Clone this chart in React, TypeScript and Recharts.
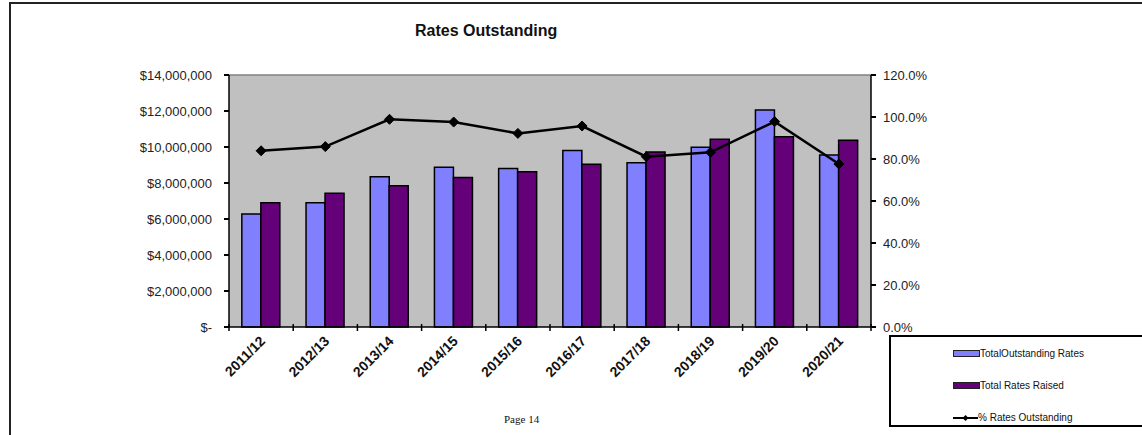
import {
  ComposedChart,
  Bar,
  Line,
  XAxis,
  YAxis,
  CartesianGrid,
  Legend,
  ReferenceLine,
} from "recharts";

const years = [
  "2011/12",
  "2012/13",
  "2013/14",
  "2014/15",
  "2015/16",
  "2016/17",
  "2017/18",
  "2018/19",
  "2019/20",
  "2020/21",
];
const totalOutstanding = [
  6280000, 6900000, 8350000, 8870000, 8800000, 9810000, 9130000, 9980000, 12060000, 9560000,
];
const totalRaised = [
  6900000, 7430000, 7850000, 8300000, 8630000, 9040000, 9720000, 10430000, 10570000, 10370000,
];
const pctOutstanding = [83.9, 85.9, 98.9, 97.6, 92.2, 95.7, 81.1, 83.2, 97.8, 77.6];

const moneyTicks = [0, 2000000, 4000000, 6000000, 8000000, 10000000, 12000000, 14000000];
const pctTicks = [0, 20, 40, 60, 80, 100, 120];

const data = years.map((year, i) => ({
  year,
  outstanding: totalOutstanding[i],
  raised: totalRaised[i],
  pct: pctOutstanding[i],
}));

const LIGHT = "#8080FF";
const DARK = "#640078";
const FONT = "'Liberation Sans', Arial, sans-serif";

// plot is 642px wide, 10 categories
const BAND = 64.2;

const formatMoney = (v: number) => (v === 0 ? "$-" : "$" + v.toLocaleString("en-US"));
const formatPct = (v: number) => v.toFixed(1) + "%";

const YearTick = (props: any) => {
  const { x, y, payload, index } = props;
  return (
    <g>
      <line x1={x - BAND / 2} x2={x - BAND / 2} y1={y - 3} y2={y + 4} stroke="#000" strokeWidth={1.5} />
      {index === years.length - 1 && (
        <line x1={x + BAND / 2} x2={x + BAND / 2} y1={y - 3} y2={y + 4} stroke="#000" strokeWidth={1.5} />
      )}
      <text
        x={x + 5}
        y={y + 15}
        transform={`rotate(-45, ${x + 5}, ${y + 15})`}
        textAnchor="end"
        fontFamily={FONT}
        fontSize={14}
        fontWeight="bold"
        fill="#111"
      >
        {payload.value}
      </text>
    </g>
  );
};

const Diamond = (props: any) => {
  const { cx, cy } = props;
  if (cx == null || cy == null) return null;
  const r = 5;
  return (
    <polygon
      points={`${cx},${cy - r} ${cx + r},${cy} ${cx},${cy + r} ${cx - r},${cy}`}
      fill="#000"
      stroke="#000"
    />
  );
};

const LegendBox = () => {
  const row = { display: "flex", alignItems: "center", height: 33 } as const;
  const label = { fontFamily: FONT, fontSize: 10, color: "#111" } as const;
  return (
    <div
      style={{
        width: 256,
        height: 92,
        border: "2px solid #000",
        boxSizing: "border-box",
        paddingLeft: 62,
        background: "#fff",
      }}
    >
      <div style={row}>
        <span style={{ width: 25, height: 5, background: LIGHT, border: "1px solid #222" }} />
        <span style={label}>TotalOutstanding Rates</span>
      </div>
      <div style={{ ...row, marginTop: -1 }}>
        <span style={{ width: 25, height: 5, background: DARK, border: "1px solid #222" }} />
        <span style={label}>Total Rates Raised</span>
      </div>
      <div style={{ ...row, marginTop: -1 }}>
        <svg width={25} height={10}>
          <line x1={0} x2={25} y1={5} y2={5} stroke="#000" strokeWidth={2} />
          <polygon points="12.5,2 15.5,5 12.5,8 9.5,5" fill="#000" />
        </svg>
        <span style={label}>% Rates Outstanding</span>
      </div>
    </div>
  );
};

export default function App() {
  return (
    <div style={{ position: "absolute", left: 0, top: 0, width: 1142, height: 435, background: "#fff", overflow: "hidden" }}>
      <div
        style={{
          position: "absolute",
          left: 9,
          top: 2,
          width: 1140,
          height: 440,
          borderTop: "2px solid #222",
          borderLeft: "2px solid #222",
        }}
      />
      <div
        style={{
          position: "absolute",
          left: 415,
          top: 22,
          fontFamily: FONT,
          fontSize: 16,
          fontWeight: "bold",
          color: "#111",
          whiteSpace: "nowrap",
        }}
      >
        Rates Outstanding
      </div>
      <div
        style={{
          position: "absolute",
          left: 504,
          top: 413,
          fontFamily: "'Liberation Serif', serif",
          fontSize: 11,
          color: "#111",
        }}
      >
        Page 14
      </div>
      <ComposedChart
        width={1142}
        height={435}
        data={data}
        margin={{ top: 75, right: 211, bottom: 48, left: 149 }}
        barCategoryGap="20%"
        barGap={0}
        style={{ position: "absolute", left: 0, top: 0 }}
      >
        <CartesianGrid fill="#C0C0C0" horizontal={false} vertical={false} stroke="none" />
        <XAxis
          dataKey="year"
          height={60}
          tickLine={false}
          tickSize={0}
          tickMargin={0}
          axisLine={{ stroke: "#000", strokeWidth: 1.5 }}
          tick={<YearTick />}
          interval={0}
        />
        <YAxis
          yAxisId="money"
          orientation="left"
          width={80}
          domain={[0, 14000000]}
          ticks={moneyTicks}
          tickFormatter={formatMoney}
          tickSize={5}
          tickMargin={12}
          tickLine={{ stroke: "#000", strokeWidth: 2 }}
          axisLine={{ stroke: "#000", strokeWidth: 1.5 }}
          tick={{ fontFamily: FONT, fontSize: 13, fill: "#222" }}
        />
        <YAxis
          yAxisId="pct"
          orientation="right"
          width={60}
          domain={[0, 120]}
          ticks={pctTicks}
          tickFormatter={formatPct}
          tickSize={5}
          tickMargin={7}
          tickLine={{ stroke: "#000", strokeWidth: 2 }}
          axisLine={{ stroke: "#000", strokeWidth: 1.5 }}
          tick={{ fontFamily: FONT, fontSize: 13, fill: "#222" }}
        />
        <ReferenceLine yAxisId="money" y={14000000} stroke="#808080" strokeWidth={1.5} />
        <Bar
          yAxisId="money"
          dataKey="outstanding"
          name="TotalOutstanding Rates"
          fill={LIGHT}
          stroke="#000"
          strokeWidth={1.5}
          isAnimationActive={false}
        />
        <Bar
          yAxisId="money"
          dataKey="raised"
          name="Total Rates Raised"
          fill={DARK}
          stroke="#000"
          strokeWidth={1.5}
          isAnimationActive={false}
        />
        <Line
          yAxisId="pct"
          dataKey="pct"
          name="% Rates Outstanding"
          type="linear"
          stroke="#000"
          strokeWidth={2.5}
          dot={<Diamond />}
          activeDot={false}
          isAnimationActive={false}
        />
        <Legend
          layout="vertical"
          align="center"
          verticalAlign="middle"
          content={<LegendBox />}
          wrapperStyle={{ left: 889, top: 335, width: 256, height: 92 }}
        />
      </ComposedChart>
    </div>
  );
}
